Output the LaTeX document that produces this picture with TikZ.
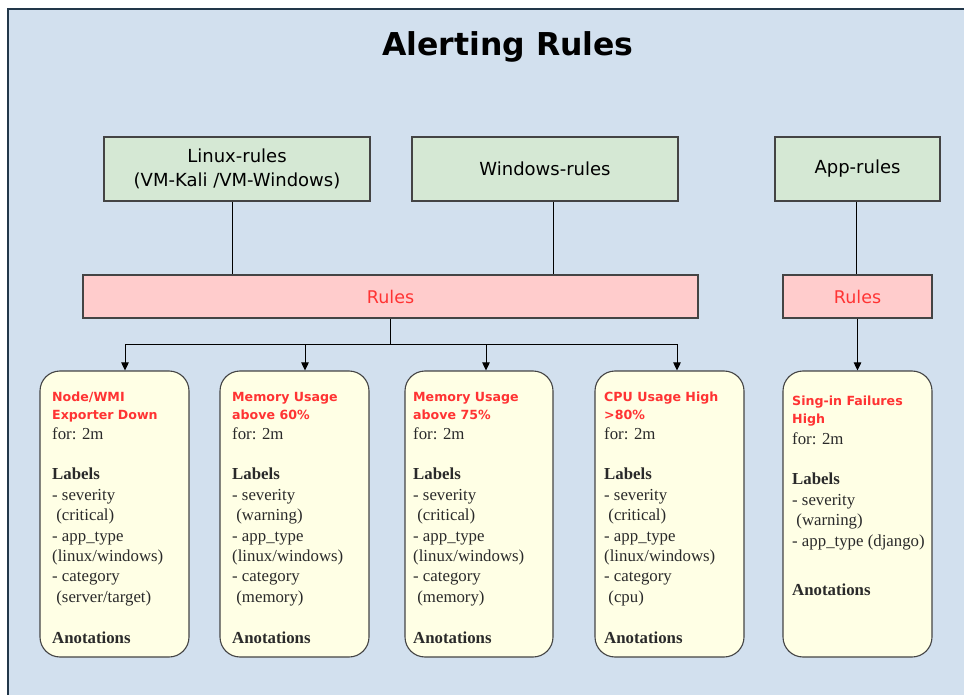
\documentclass[tikz,border=0pt]{standalone}
\usepackage{fontspec}
\setmainfont{Liberation Serif}
\newfontfamily\headfont{DejaVu Sans}
\usetikzlibrary{arrows.meta}

\definecolor{bgblue}{HTML}{D2E0EE}
\definecolor{framecol}{HTML}{22374A}
\definecolor{groupfill}{HTML}{D5E8D4}
\definecolor{rulefill}{HTML}{FFCCCC}
\definecolor{rulered}{HTML}{FF3333}
\definecolor{cardfill}{HTML}{FFFFE5}
\definecolor{edgegray}{HTML}{444444}
\definecolor{bodygray}{HTML}{2A2A2A}

\tikzset{
  groupbox/.style={draw=edgegray, line width=1.1pt, fill=groupfill, align=center,
    text=black, font=\headfont\fontsize{18}{24}\selectfont, inner sep=0pt},
  rulebar/.style={draw=edgegray, line width=1.1pt, fill=rulefill, text=rulered,
    font=\headfont\fontsize{17.5}{20}\selectfont, inner sep=0pt},
  card/.style={draw=edgegray, line width=1.1pt, fill=cardfill, rounded corners=20pt,
    inner sep=0pt},
  wire/.style={draw=black, line width=0.9pt},
  arrowwire/.style={wire, -{Triangle[length=8pt,width=7.5pt]}},
  cardtitle/.style={anchor=base west, inner sep=0pt, text=rulered,
    font=\headfont\bfseries\fontsize{12.6}{15}\selectfont},
  bodytext/.style={anchor=base west, inner sep=0pt, text=bodygray,
    font=\fontsize{16.8}{20}\selectfont},
}

% body lines of a card: name prefix, left x, first baseline, list of lines
\newcommand\cardlines[4]{%
  \foreach \entry [count=\i from 0] in {#4} {%
    \node[bodytext] (#1-\i) at (#2, #3+20.4*\i) {\entry};
  }%
}

\begin{document}
\begin{tikzpicture}[x=1pt, y=-1pt]
\useasboundingbox (0,0) rectangle (964,695);

% canvas
\fill[bgblue] (8,9) rectangle (964,695);
\draw[framecol, line width=1.4pt] (8,695) -- (8,9) -- (964,9);

% heading
\node[anchor=base, inner sep=0pt, font=\headfont\bfseries\fontsize{31.5}{36}\selectfont]
  (title) at (508,56) {Alerting Rules};

% rule groups
\node[groupbox, minimum width=266pt, minimum height=64pt] (linux) at (237,169)
  {Linux-rules\\(VM-Kali /VM-Windows)};
\node[groupbox, minimum width=266pt, minimum height=64pt] (windows) at (545,169)
  {Windows-rules};
\node[groupbox, minimum width=165pt, minimum height=64pt] (app) at (857.5,169)
  {App-rules};

\node[rulebar, minimum width=615pt, minimum height=43pt] (rules) at (390.5,296.5) {Rules};
\node[rulebar, minimum width=149pt, minimum height=43pt] (apprules) at (857.5,296.5) {Rules};

% alert cards
\node[card, minimum width=149pt, minimum height=286pt] (c1) at (114.5,514) {};
\node[card, minimum width=149pt, minimum height=286pt] (c2) at (294.5,514) {};
\node[card, minimum width=148pt, minimum height=286pt] (c3) at (479,514) {};
\node[card, minimum width=149pt, minimum height=286pt] (c4) at (669.5,514) {};
\node[card, minimum width=149pt, minimum height=286pt] (c5) at (857.5,514) {};

% connectors
\draw[wire] ([xshift=-5pt]linux.south) -- ([xshift=-5pt]linux.south |- rules.north);
\draw[wire] ([xshift=8pt]windows.south) -- ([xshift=8pt]windows.south |- rules.north);
\draw[wire] ([xshift=-1.5pt]app.south) -- ([xshift=-1.5pt]app.south |- apprules.north);

\coordinate (bus) at (390.5,344);
\draw[wire] (rules.south) -- (bus);
\draw[wire] ([xshift=10.5pt]c1.north |- bus) -- ([xshift=7.5pt]c4.north |- bus);
\draw[arrowwire] ([xshift=10.5pt]c1.north |- bus) -- ([xshift=10.5pt]c1.north);
\draw[arrowwire] ([xshift=10.5pt]c2.north |- bus) -- ([xshift=10.5pt]c2.north);
\draw[arrowwire] ([xshift=7pt]c3.north |- bus) -- ([xshift=7pt]c3.north);
\draw[arrowwire] ([xshift=7.5pt]c4.north |- bus) -- ([xshift=7.5pt]c4.north);
\draw[arrowwire] (apprules.south) -- (c5.north);

% card 1
\node[cardtitle] (c1-h1) at (52,401) {Node/WMI};
\node[cardtitle] (c1-h2) at (52,419) {Exporter Down};
\cardlines{c1}{52}{439}{for: 2m, , \textbf{Labels}, - severity, \ (critical), - app\_type,
  (linux/windows), - category, \ (server/target), , \textbf{Anotations}}

% card 2
\node[cardtitle] (c2-h1) at (232,401) {Memory Usage};
\node[cardtitle] (c2-h2) at (232,419) {above 60\%};
\cardlines{c2}{232}{439}{for: 2m, , \textbf{Labels}, - severity, \ (warning), - app\_type,
  (linux/windows), - category, \ (memory), , \textbf{Anotations}}

% card 3
\node[cardtitle] (c3-h1) at (413,401) {Memory Usage};
\node[cardtitle] (c3-h2) at (413,419) {above 75\%};
\cardlines{c3}{413}{439}{for: 2m, , \textbf{Labels}, - severity, \ (critical), - app\_type,
  (linux/windows), - category, \ (memory), , \textbf{Anotations}}

% card 4
\node[cardtitle] (c4-h1) at (604,401) {CPU Usage High};
\node[cardtitle] (c4-h2) at (604,419) {>80\%};
\cardlines{c4}{604}{439}{for: 2m, , \textbf{Labels}, - severity, \ (critical), - app\_type,
  (linux/windows), - category, \ (cpu), , \textbf{Anotations}}

% card 5
\node[cardtitle] (c5-h1) at (792,405) {Sing-in Failures};
\node[cardtitle] (c5-h2) at (792,423.5) {High};
\cardlines{c5}{792}{444}{for: 2m, , \textbf{Labels}, - severity, \ (warning), - app\_type (django)}
\node[bodytext] (c5-ann) at (792,595) {\textbf{Anotations}};

\end{tikzpicture}
\end{document}
